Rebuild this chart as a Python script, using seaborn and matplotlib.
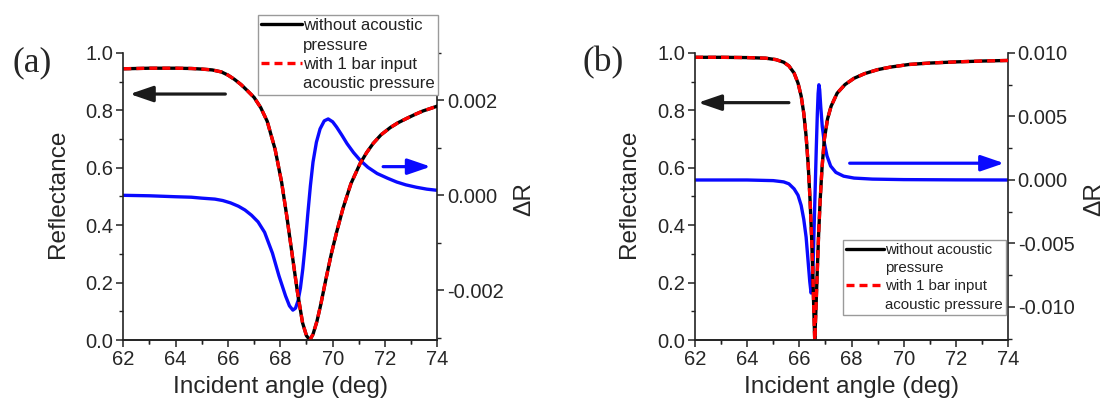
import matplotlib
matplotlib.use("Agg")
import matplotlib.pyplot as plt
from matplotlib.lines import Line2D
from matplotlib.ticker import MultipleLocator, FormatStrFormatter
import seaborn as sns

# ---------------- data ----------------
# Panel (a): reflectance vs incident angle
angle_a_refl = [62, 63, 64, 64.6, 65.0, 65.4, 65.75, 66.0, 66.25, 66.5, 66.75, 67.0,
                67.25, 67.5, 67.8, 68.05, 68.25, 68.45, 68.65, 68.85, 69.0, 69.13,
                69.25, 69.4, 69.55, 69.75, 69.95, 70.15, 70.4, 70.7, 71.05, 71.3,
                71.55, 71.85, 72.2, 72.5, 72.85, 73.15, 73.45, 73.75, 74]
refl_a_without = [0.945, 0.947, 0.947, 0.946, 0.944, 0.941, 0.934, 0.923, 0.908, 0.89,
                  0.868, 0.845, 0.81, 0.762, 0.665, 0.55, 0.43, 0.30, 0.17, 0.06,
                  0.015, 0.0, 0.02, 0.065, 0.125, 0.215, 0.30, 0.375, 0.46, 0.545,
                  0.615, 0.653, 0.685, 0.715, 0.74, 0.757, 0.773, 0.786, 0.798, 0.807,
                  0.815]
refl_a_with = [0.945, 0.947, 0.947, 0.946, 0.944, 0.941, 0.934, 0.923, 0.908, 0.89,
               0.868, 0.845, 0.81, 0.762, 0.665, 0.55, 0.43, 0.30, 0.17, 0.06,
               0.015, 0.0, 0.02, 0.065, 0.125, 0.215, 0.30, 0.375, 0.46, 0.545,
               0.615, 0.653, 0.685, 0.715, 0.74, 0.757, 0.773, 0.786, 0.798, 0.807,
               0.815]
# Panel (a): delta R
angle_a_dr = [62, 63, 64, 64.6, 65, 65.5, 65.8, 66.1, 66.4, 66.65, 66.9, 67.15, 67.4,
              67.7, 67.95, 68.2, 68.35, 68.48, 68.58, 68.68, 68.77, 68.86, 68.95, 69.05,
              69.15, 69.25, 69.38, 69.52, 69.68, 69.83, 70.0, 70.15, 70.35, 70.55, 70.8,
              71.05, 71.35, 71.7, 72.1, 72.45, 72.8, 73.2, 73.6, 74]
dr_a = [0.0, -0.00001, -0.00003, -0.00004, -0.00006, -0.00008, -0.00011, -0.00016,
        -0.00023, -0.00031, -0.00042, -0.00056, -0.00078, -0.00122, -0.0017, -0.00212,
        -0.00233, -0.00242, -0.00238, -0.00222, -0.00195, -0.00155, -0.00105, -0.0004,
        0.0002, 0.0007, 0.00112, 0.0014, 0.00157, 0.00161, 0.00155, 0.00144, 0.00127,
        0.00109, 0.0009, 0.00074, 0.00059, 0.00046, 0.00036, 0.00028, 0.00022,
        0.00017, 0.00013, 0.000105]

# Panel (b): reflectance vs incident angle
angle_b_refl = [62, 63, 64, 64.7, 65.1, 65.4, 65.6, 65.8, 65.95, 66.07, 66.17, 66.26,
                66.34, 66.41, 66.47, 66.52, 66.56, 66.59, 66.63, 66.68, 66.74, 66.8,
                66.87, 66.96, 67.08, 67.22, 67.45, 67.75, 68.1, 68.5, 69.0, 69.5, 70.2,
                71.0, 72.0, 73.0, 74]
refl_b_without = [0.985, 0.985, 0.984, 0.982, 0.977, 0.968, 0.955, 0.93, 0.895, 0.85,
                  0.79, 0.71, 0.61, 0.49, 0.36, 0.22, 0.09, 0.0, 0.09, 0.22, 0.37, 0.49,
                  0.60, 0.70, 0.77, 0.815, 0.86, 0.89, 0.912, 0.928, 0.942, 0.951, 0.96,
                  0.965, 0.969, 0.972, 0.974]
refl_b_with = [0.985, 0.985, 0.984, 0.982, 0.977, 0.968, 0.955, 0.93, 0.895, 0.85,
               0.79, 0.71, 0.61, 0.49, 0.36, 0.22, 0.09, 0.0, 0.09, 0.22, 0.37, 0.49,
               0.60, 0.70, 0.77, 0.815, 0.86, 0.89, 0.912, 0.928, 0.942, 0.951, 0.96,
               0.965, 0.969, 0.972, 0.974]
# Panel (b): delta R
angle_b_dr = [62, 64, 65, 65.4, 65.6, 65.8, 65.95, 66.07, 66.17, 66.26, 66.34, 66.4,
              66.45, 66.49, 66.53, 66.57, 66.61, 66.65, 66.69, 66.72, 66.75, 66.78,
              66.82, 66.88, 66.96, 67.06, 67.2, 67.4, 67.7, 68.1, 68.8, 70.0, 72.0, 74]
dr_b = [0.0, 0.0, -0.00005, -0.00015, -0.0003, -0.0007, -0.0012, -0.002, -0.0031,
        -0.0045, -0.0065, -0.008, -0.0089, -0.0087, -0.0065, -0.0035, -0.0005, 0.0025,
        0.0052, 0.0068, 0.0075, 0.0071, 0.0058, 0.0042, 0.0029, 0.0019, 0.0011, 0.0006,
        0.0003, 0.00015, 0.00007, 0.00003, 0.00001, 0.0]

legend_labels = ["without acoustic", "pressure", "with 1 bar input", "acoustic pressure"]
x_ticks = [62, 64, 66, 68, 70, 72, 74]
refl_ticks = [0.0, 0.2, 0.4, 0.6, 0.8, 1.0]

# ---------------- styling ----------------
sns.set_style("ticks")
plt.rcParams["font.family"] = ["Liberation Sans", "DejaVu Sans"]
plt.rcParams["axes.unicode_minus"] = False

W, H = 1106, 403
fig = plt.figure(figsize=(W / 100, H / 100), dpi=100)

LW = 2.4
DASH = (2.4, 1.5)
BLUE = "#0a0aff"
TICK_FS = 14.5
LABEL_FS = 17.6


def panel(rect, ang_r, r_wo, r_w, ang_d, dr, ylim2, maj2, min2, leg_xy, leg_fs,
          leg_hl, leg_sp, arrows, ylab_x, dlab_x, letter, letter_x):
    ax2 = fig.add_axes(rect)
    ax = fig.add_axes(rect, sharex=ax2)
    ax2.yaxis.tick_right()
    ax2.yaxis.set_label_position("right")
    ax.set_zorder(ax2.get_zorder() + 1)
    ax.patch.set_visible(False)

    # delta R on the right axis
    sns.lineplot(x=ang_d, y=dr, ax=ax2, color=BLUE, lw=LW, estimator=None, sort=False)
    # reflectance on the left axis
    sns.lineplot(x=ang_r, y=r_wo, ax=ax, color="black", lw=LW, estimator=None, sort=False)
    sns.lineplot(x=ang_r, y=r_w, ax=ax, color="red", lw=LW, estimator=None, sort=False)
    ax.lines[-1].set_dashes(DASH)
    for ln in ax.lines + ax2.lines:
        ln.set_solid_joinstyle("round")
        ln.set_dash_joinstyle("round")

    ax.set_xlim(62, 74)
    ax.set_ylim(0, 1.0)
    ax2.set_ylim(*ylim2)
    ax.set_xticks(x_ticks)
    ax.set_yticks(refl_ticks)
    ax.xaxis.set_minor_locator(MultipleLocator(1))
    ax.yaxis.set_minor_locator(MultipleLocator(0.1))
    ax.yaxis.set_major_formatter(FormatStrFormatter("%.1f"))
    ax2.yaxis.set_major_locator(MultipleLocator(maj2))
    ax2.yaxis.set_minor_locator(MultipleLocator(min2))
    ax2.yaxis.set_major_formatter(FormatStrFormatter("%.3f"))

    for a in (ax, ax2):
        a.spines["top"].set_visible(False)
        for s in a.spines.values():
            s.set_linewidth(1.2)
            s.set_color("#222222")
        a.tick_params(which="major", direction="out", length=5, width=1.1,
                      labelsize=TICK_FS, pad=2, color="#222222")
        a.tick_params(which="minor", direction="out", length=3, width=1.0,
                      color="#222222")
    ax.spines["right"].set_visible(False)
    ax2.spines["left"].set_visible(False)
    ax.tick_params(axis="y", right=False, labelright=False)
    ax2.tick_params(axis="y", left=False, labelleft=False)
    ax2.tick_params(axis="x", bottom=False, labelbottom=False)

    ax.set_xlabel("Incident angle (deg)", fontsize=LABEL_FS)
    ax.xaxis.set_label_coords(0.5, -0.125)
    ax.set_ylabel("Reflectance", fontsize=LABEL_FS, va="center")
    ax.yaxis.set_label_coords(ylab_x, 0.51)
    ax2.set_xlabel("")
    ax2.set_ylabel("\u0394R", fontsize=LABEL_FS, va="center", rotation=90)
    ax2.yaxis.set_label_coords(dlab_x, 0.49)

    # arrows pointing to the relevant axis
    for (x0, x1, y, col) in arrows:
        ax.annotate("", xy=(x1, y), xytext=(x0, y), xycoords="data",
                    arrowprops=dict(arrowstyle="-|>,head_length=0.7,head_width=0.24",
                                    color=col, lw=2.3, mutation_scale=20,
                                    shrinkA=0, shrinkB=0))

    handles = [Line2D([], [], color="black", lw=LW),
               Line2D([], [], color="none", lw=0),
               Line2D([], [], color="red", lw=LW, dashes=DASH),
               Line2D([], [], color="none", lw=0)]
    leg = ax.legend(handles, legend_labels, loc="upper left",
                    bbox_to_anchor=leg_xy, bbox_transform=fig.transFigure,
                    borderaxespad=0, fontsize=leg_fs, frameon=True, fancybox=False,
                    framealpha=1, edgecolor="#9a9a9a", borderpad=0.2,
                    handlelength=leg_hl, handletextpad=0.1, labelspacing=leg_sp)
    leg.get_frame().set_linewidth(1.0)
    for t in leg.get_texts():
        t.set_color("#222222")

    fig.text(letter_x, 1 - 63 / H, letter, fontsize=25.5, family="Liberation Serif",
             va="center", ha="left")
    return ax, ax2


bottom = (H - 340) / H
height = 287 / H

panel([123.3 / W, bottom, 314 / W, height],
      angle_a_refl, refl_a_without, refl_a_with, angle_a_dr, dr_a,
      (-0.00305, 0.003), 0.002, 0.001,
      (258 / W, 1 - 15 / H), 12.1, 2.4, 0.26,
      [(65.9, 62.25, 0.857, "#1a1a1a"), (71.93, 73.75, 0.604, BLUE)],
      -0.208, 1.276, "(a)", 12 / W)

panel([695 / W, bottom, 313 / W, height],
      angle_b_refl, refl_b_without, refl_b_with, angle_b_dr, dr_b,
      (-0.0126, 0.010), 0.005, 0.0025,
      (843 / W, 1 - 240 / H), 10.8, 2.5, 0.28,
      [(65.6, 62.12, 0.827, "#1a1a1a"), (67.93, 73.85, 0.616, BLUE)],
      -0.21, 1.275, "(b)", 582 / W)

fig.savefig("out.png", dpi=100)
